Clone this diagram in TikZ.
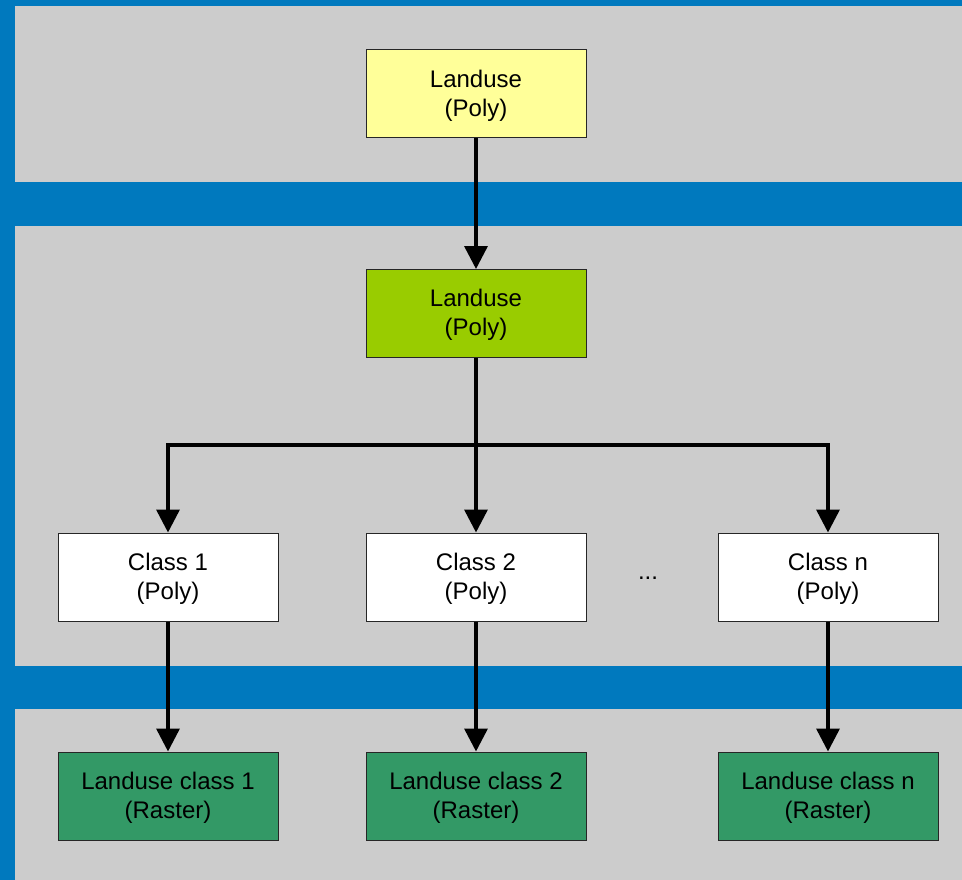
\documentclass[tikz,border=0pt]{standalone}
\usepackage{fontspec}
\setmainfont{Liberation Sans}
\usetikzlibrary{arrows.meta}
\definecolor{frameblue}{RGB}{0,121,190}
\definecolor{panelgray}{RGB}{204,204,204}
\definecolor{boxyellow}{RGB}{255,255,153}
\definecolor{boxlime}{RGB}{153,204,0}
\definecolor{boxgreen}{RGB}{51,153,102}
\begin{document}
\begin{tikzpicture}[x=1pt,y=-1pt,
  layerbox/.style={draw=black!85,line width=1pt,minimum width=220pt,minimum height=88pt,
    inner sep=0pt,align=center,text height=49pt,font=\fontsize{24}{29}\selectfont},
  flow/.style={line width=3.5pt,-{Triangle[width=23pt,length=23pt]}}]
  % background frame and the three layer panels
  \fill[frameblue] (0,0) rectangle (962,880);
  \fill[panelgray] (15,6) rectangle (962,182);
  \fill[panelgray] (15,226) rectangle (962,666);
  \fill[panelgray] (15,709) rectangle (962,880);
  \useasboundingbox (0,0) rectangle (962,880);

  % nodes
  \node[layerbox,fill=boxyellow] (src) at (476,94) {Landuse\\(Poly)};
  \node[layerbox,fill=boxlime] (poly) at (476,313.5) {Landuse\\(Poly)};
  \node[layerbox,fill=white] (c1) at (168,577) {Class 1\\(Poly)};
  \node[layerbox,fill=white] (c2) at (476,577) {Class 2\\(Poly)};
  \node[layerbox,fill=white] (cn) at (828,577) {Class n\\(Poly)};
  \node[font=\fontsize{24}{29}\selectfont] (dots) at (648,578) {...};
  \node[layerbox,fill=boxgreen] (r1) at (168,796) {Landuse class 1\\(Raster)};
  \node[layerbox,fill=boxgreen] (r2) at (476,796) {Landuse class 2\\(Raster)};
  \node[layerbox,fill=boxgreen] (rn) at (828,796) {Landuse class n\\(Raster)};
  \coordinate (split) at (476,445);

  % connectors
  \draw[flow] (src) -- (poly);
  \draw[flow] (poly) -- (c2);
  \draw[flow] (split) -| (c1.north);
  \draw[flow] (split) -| (cn.north);
  \draw[flow] (c1) -- (r1);
  \draw[flow] (c2) -- (r2);
  \draw[flow] (cn) -- (rn);
\end{tikzpicture}
\end{document}
